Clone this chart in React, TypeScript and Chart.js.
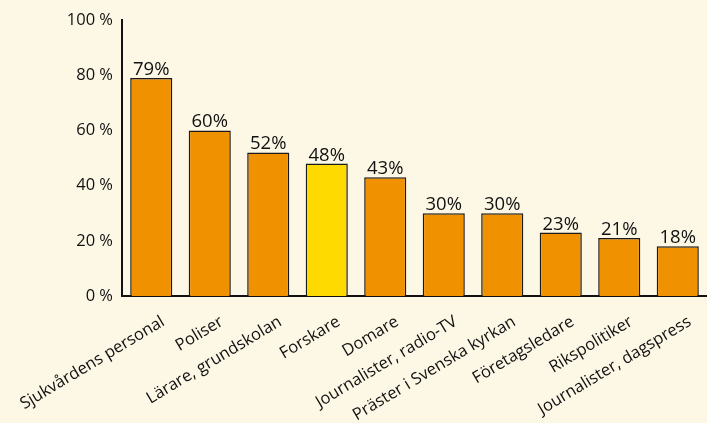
import React, { useEffect, useRef } from "react";
import { Chart, registerables } from "chart.js";

Chart.register(...registerables);

const categories = [
  "Sjukvårdens personal",
  "Poliser",
  "Lärare, grundskolan",
  "Forskare",
  "Domare",
  "Journalister, radio-TV",
  "Präster i Svenska kyrkan",
  "Företagsledare",
  "Rikspolitiker",
  "Journalister, dagspress",
];
const values = [79, 60, 52, 48, 43, 30, 30, 23, 21, 18];
const highlighted = "Forskare";
const yTicks = [0, 20, 40, 60, 80, 100];

const BG = "#FDF8E6";
const ORANGE = "#F09200";
const YELLOW = "#FFDA00";
const FONT = "'Open Sans', 'Noto Sans', sans-serif";

const valueLabels = {
  id: "valueLabels",
  afterDatasetsDraw(chart: any) {
    const ctx = chart.ctx;
    const meta = chart.getDatasetMeta(0);
    ctx.save();
    ctx.font = `18.5px ${FONT}`;
    ctx.fillStyle = "#111";
    ctx.textAlign = "center";
    ctx.textBaseline = "alphabetic";
    meta.data.forEach((bar: any, i: number) => {
      ctx.fillText(`${values[i]}%`, bar.x, bar.y - 3);
    });
    ctx.restore();
  },
};

export default function App() {
  const ref = useRef<HTMLCanvasElement>(null);
  useEffect(() => {
    document.body.style.margin = "0";
    document.body.style.background = BG;
    const chart = new Chart(ref.current!, {
      type: "bar",
      data: {
        labels: categories,
        datasets: [
          {
            data: values,
            backgroundColor: categories.map((c) => (c === highlighted ? YELLOW : ORANGE)),
            borderColor: "#1a1a1a",
            borderWidth: 1.5,
            barPercentage: 0.72,
            categoryPercentage: 1,
          },
        ],
      },
      options: {
        animation: false,
        responsive: false,
        maintainAspectRatio: false,
        layout: { padding: { top: 20, left: 0, right: 0, bottom: 0 } },
        plugins: { legend: { display: false }, tooltip: { enabled: false } },
        scales: {
          x: {
            grid: { display: false, drawTicks: false },
            border: { display: true, color: "#111", width: 2 },
            ticks: {
              color: "#111",
              font: { family: FONT, size: 16.5 },
              minRotation: 31,
              maxRotation: 31,
              autoSkip: false,
              padding: 16,
              labelOffset: 12,
            },
            afterFit(scale: any) {
              scale.height = 127;
              scale.paddingLeft = 0;
              scale.paddingRight = 0;
            },
          },
          y: {
            min: 0,
            max: 100,
            afterBuildTicks(scale: any) {
              scale.ticks = yTicks.map((v) => ({ value: v }));
            },
            grid: { display: false, drawTicks: false },
            border: { display: true, color: "#111", width: 2 },
            ticks: {
              color: "#111",
              font: { family: FONT, size: 16.5 },
              padding: 9,
              callback: (v: any) => `${v} %`,
            },
            afterFit(scale: any) {
              scale.width = 122;
            },
          },
        },
      },
      plugins: [valueLabels],
    });
    return () => chart.destroy();
  }, []);
  return (
    <div style={{ width: 707, height: 423, background: BG }}>
      <canvas ref={ref} width={707} height={423} style={{ display: "block" }} />
    </div>
  );
}
